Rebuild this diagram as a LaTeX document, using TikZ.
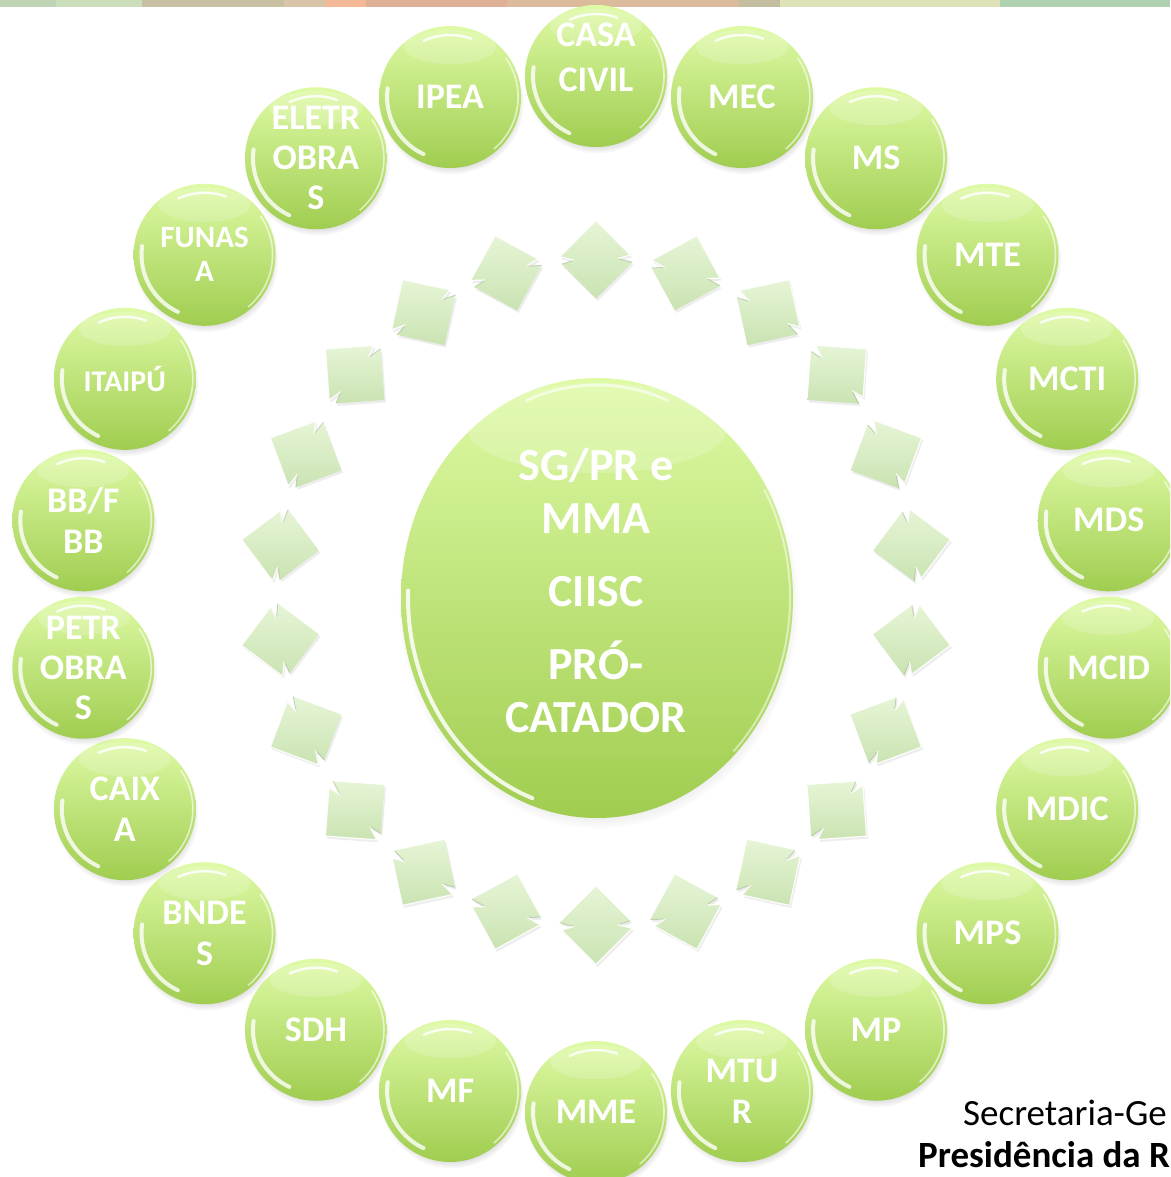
\documentclass[tikz,border=0pt]{standalone}
\usepackage{fontspec}
\setmainfont{Carlito}
\usetikzlibrary{shapes.geometric,shadows,calc}
\definecolor{orbtop}{RGB}{222,250,165}
\definecolor{orbmid}{RGB}{195,232,122}
\definecolor{orbbot}{RGB}{160,205,80}
\definecolor{qtop}{RGB}{230,245,214}
\definecolor{qbot}{RGB}{202,227,178}
\definecolor{qedge}{RGB}{150,175,130}
\begin{document}
\begin{tikzpicture}[x=1pt,y=-1pt,
  orb/.style={circle, minimum size=142pt, inner sep=0pt, shading=axis,
    top color=orbtop, middle color=orbmid, bottom color=orbbot,
    circular drop shadow={shadow yshift=-5pt, shadow scale=1.02, opacity=0.35},
    path picture={
      \coordinate (pc) at (path picture bounding box.center);
      \fill[white, opacity=0.18] (pc) ++(0pt,50pt) ellipse [x radius=46pt, y radius=17pt];
      \draw[white, opacity=0.85, line width=2.5pt, line cap=round] (pc) ++(115:62pt) arc[start angle=115, end angle=70, radius=62pt];
      \draw[white, opacity=0.8, line width=4pt, line cap=round] (pc) ++(172:63pt) arc[start angle=172, end angle=245, radius=63pt];
      \draw[white, opacity=0.6, line width=1.6pt] (pc) ++(-50:68pt) arc[start angle=-50, end angle=35, radius=68pt];
    }},
  orbtext/.style={text=white, align=center, inner sep=0pt},
  quad/.pic={
    \path[shading=axis, top color=qtop, bottom color=qbot,
      drop shadow={opacity=0.14, shadow xshift=1.5pt, shadow yshift=-2.5pt}, x=39pt, y=39pt]
      (0,1) -- (0.88,0.12) -- (0.56,0.02) -- (0.93,-0.07) -- (0,-1)
      -- (-0.88,-0.12) -- (-0.56,-0.02) -- (-0.93,0.07) -- cycle;
    \draw[qedge, opacity=0.45, line width=1pt, line join=round, x=39pt, y=39pt]
      (0.56,0.02) -- (0.93,-0.07) (-0.56,-0.02) -- (-0.88,-0.12);
    \draw[white, opacity=0.9, line width=1.2pt, line join=round, x=39pt, y=39pt]
      (0.88,0.12) -- (0.56,0.02) (-0.93,0.07) -- (-0.56,-0.02)
      (-0.93,0.07) -- (0,1) -- (0.88,0.12);
  }]
\useasboundingbox (0,0) rectangle (1170,1177);
\fill[white] (0,0) rectangle (1170,1177);
\clip (0,0) rectangle (1170,1177);
% top band
\foreach \xa/\xb/\cR/\cG/\cB in {0/56/190/212/180, 56/142/202/222/188, 142/284/200/192/162,
   284/325/216/196/166, 325/366/244/186/152, 366/507/222/176/150, 507/739/220/186/156,
   739/780/196/190/160, 780/1000/222/226/182, 1000/1170/176/210/176}
  \fill[fill={rgb,255:red,\cR;green,\cG;blue,\cB}] (\xa,0) rectangle (\xb,7);
% inner ring of quad arrows
\foreach \k in {0,...,21}{
  \pgfmathsetmacro\a{90-\k*360/22}
  \pic[rotate=\a-90] at ({596+319*cos(\a)},{592.5-333*sin(\a)}) {quad};
}
% hub
\node[ellipse, minimum width=392pt, minimum height=440pt, inner sep=0pt, shading=axis,
  top color=orbtop, middle color=orbmid, bottom color=orbbot,
  circular drop shadow={shadow yshift=-6pt, shadow scale=1.02, opacity=0.35},
  path picture={
    \coordinate (hc) at (path picture bounding box.center);
    \fill[white, opacity=0.18] (hc) ++(0pt,170pt) ellipse [x radius=130pt, y radius=45pt];
    \draw[white, opacity=0.85, line width=4pt, line cap=round] (hc) ++(178:189pt and 213pt) arc[start angle=178, end angle=250, x radius=189pt, y radius=213pt];
    \draw[white, opacity=0.6, line width=3pt, line cap=round] (hc) ++(112:189pt and 213pt) arc[start angle=112, end angle=68, x radius=189pt, y radius=213pt];
    \draw[white, opacity=0.5, line width=2pt] (hc) ++(-45:193pt and 217pt) arc[start angle=-45, end angle=30, x radius=193pt, y radius=217pt];
  }] (hub) at (597,598) {};
\node[orbtext, font=\fontsize{46}{53}\selectfont\bfseries] (hubtext) at (596,591)
  {SG/PR e\\MMA\\[20pt]CIISC\\[20pt]PRÓ-\\CATADOR};
% outer ring
\foreach \k/\nm/\txt/\fs/\bs/\dy in {
  0/casa/{CASA\\CIVIL}/36/45/19, 1/mec/MEC/36/41/0, 2/ms/MS/36/41/0, 3/mte/MTE/36/41/0,
  4/mcti/MCTI/36/41/0, 5/mds/MDS/36/41/0, 6/mcid/MCID/36/41/0, 7/mdic/MDIC/36/41/0,
  8/mps/MPS/36/41/0, 9/mp/MP/36/41/0, 10/mtur/{MTU\\R}/36/41/0, 11/mme/MME/36/41/0,
  12/mf/MF/36/41/0, 13/sdh/SDH/36/41/0, 14/bndes/{BNDE\\S}/36/41/0, 15/caixa/{CAIX\\A}/36/41/0,
  16/petro/{PETR\\OBRA\\S}/36/40/0, 17/bb/{BB/F\\BB}/36/41/0, 18/itaipu/ITAIPÚ/30/34/0,
  19/funasa/{FUNAS\\A}/31/34/0, 20/eletro/{ELETR\\OBRA\\S}/36/40/0, 21/ipea/IPEA/36/41/0}{
  \pgfmathsetmacro\a{90-\k*360/22}
  \node[orb] (\nm) at ({596+518*cos(\a)},{594-518*sin(\a)}) {};
  \node[orbtext, font=\fontsize{\fs}{\bs}\selectfont\bfseries] (\nm-t) at ([yshift=\dy pt]\nm.center) {\txt};
}
% footer
\node[anchor=base west, inner sep=0pt, font=\fontsize{37}{44}\selectfont] (sg) at (963,1125) {Secretaria-Ge};
\node[anchor=base west, inner sep=0pt, font=\fontsize{37}{44}\selectfont\bfseries] (pr) at (918,1167) {Presidência da R};
\end{tikzpicture}
\end{document}
